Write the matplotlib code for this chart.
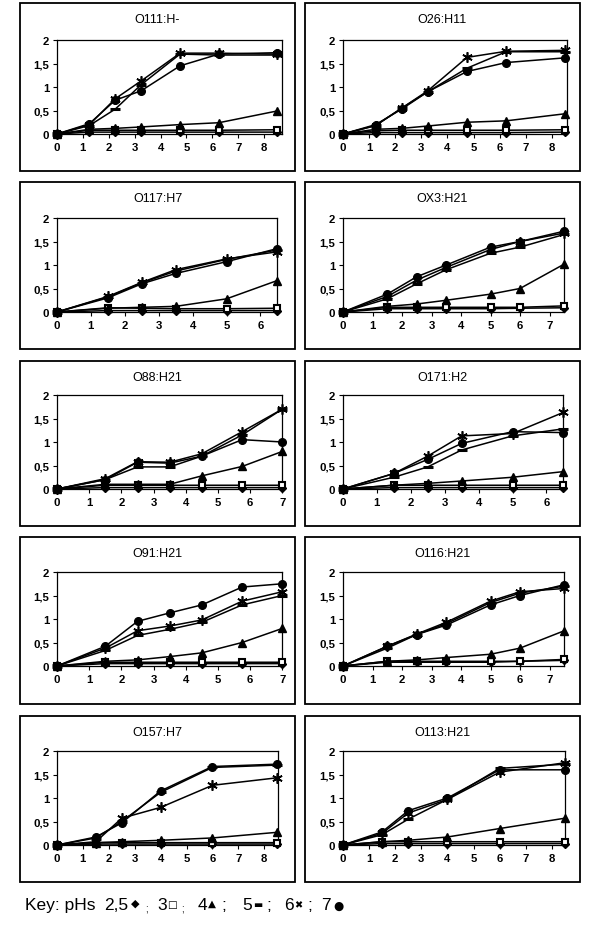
import matplotlib
matplotlib.use("Agg")
import matplotlib.pyplot as plt
from matplotlib.patches import Rectangle
from matplotlib.ticker import FuncFormatter

# ---------------- data ----------------
titles = ["O111:H-", "O26:H11", "O117:H7", "OX3:H21", "O88:H21",
          "O171:H2", "O91:H21", "O116:H21", "O157:H7", "O113:H21"]

times = [
    [0, 1.25, 2.25, 3.25, 4.75, 6.25, 8.5],
    [0, 1.25, 2.25, 3.25, 4.75, 6.25, 8.5],
    [0, 1.5, 2.5, 3.5, 5, 6.5],
    [0, 1.5, 2.5, 3.5, 5, 6, 7.5],
    [0, 1.5, 2.5, 3.5, 4.5, 5.75, 7],
    [0, 1.5, 2.5, 3.5, 5, 6.5],
    [0, 1.5, 2.5, 3.5, 4.5, 5.75, 7],
    [0, 1.5, 2.5, 3.5, 5, 6, 7.5],
    [0, 1.5, 2.5, 4, 6, 8.5],
    [0, 1.5, 2.5, 4, 6, 8.5],
]

ph25 = [
    [0, 0.04, 0.04, 0.04, 0.04, 0.04, 0.04],
    [0, 0.03, 0.03, 0.03, 0.03, 0.03, 0.04],
    [0, 0.03, 0.03, 0.03, 0.03, 0.03],
    [0, 0.07, 0.07, 0.07, 0.07, 0.08, 0.09],
    [0, 0.03, 0.03, 0.03, 0.03, 0.03, 0.03],
    [0, 0.03, 0.03, 0.03, 0.03, 0.03],
    [0, 0.05, 0.05, 0.05, 0.05, 0.05, 0.05],
    [0, 0.08, 0.08, 0.08, 0.08, 0.10, 0.12],
    [0, 0.02, 0.02, 0.02, 0.02, 0.02],
    [0, 0.03, 0.03, 0.03, 0.03, 0.03],
]
ph3 = [
    [0, 0.08, 0.08, 0.08, 0.08, 0.08, 0.09],
    [0, 0.07, 0.08, 0.08, 0.08, 0.08, 0.09],
    [0, 0.09, 0.08, 0.07, 0.07, 0.08],
    [0, 0.10, 0.10, 0.10, 0.10, 0.10, 0.13],
    [0, 0.08, 0.08, 0.08, 0.08, 0.08, 0.08],
    [0, 0.08, 0.08, 0.08, 0.08, 0.08],
    [0, 0.08, 0.08, 0.08, 0.08, 0.08, 0.08],
    [0, 0.10, 0.10, 0.10, 0.10, 0.10, 0.14],
    [0, 0.05, 0.05, 0.05, 0.05, 0.05],
    [0, 0.07, 0.07, 0.07, 0.07, 0.07],
]
ph4 = [
    [0, 0.10, 0.12, 0.15, 0.20, 0.24, 0.49],
    [0, 0.10, 0.12, 0.17, 0.25, 0.28, 0.43],
    [0, 0.08, 0.10, 0.12, 0.28, 0.67],
    [0, 0.12, 0.17, 0.25, 0.38, 0.50, 1.02],
    [0, 0.10, 0.10, 0.10, 0.28, 0.48, 0.80],
    [0, 0.08, 0.12, 0.17, 0.25, 0.37],
    [0, 0.10, 0.13, 0.20, 0.28, 0.50, 0.80],
    [0, 0.10, 0.13, 0.18, 0.25, 0.38, 0.75],
    [0, 0.05, 0.07, 0.10, 0.15, 0.27],
    [0, 0.07, 0.10, 0.17, 0.35, 0.57],
]
ph5 = [
    [0, 0.18, 0.53, 1.05, 1.70, 1.68, 1.68],
    [0, 0.18, 0.55, 0.90, 1.40, 1.75, 1.75],
    [0, 0.32, 0.62, 0.87, 1.12, 1.32],
    [0, 0.28, 0.60, 0.90, 1.25, 1.38, 1.65],
    [0, 0.20, 0.47, 0.47, 0.70, 1.15, 1.70],
    [0, 0.25, 0.47, 0.83, 1.13, 1.28],
    [0, 0.33, 0.65, 0.78, 0.93, 1.30, 1.50],
    [0, 0.38, 0.67, 0.90, 1.35, 1.55, 1.70],
    [0, 0.15, 0.50, 1.12, 1.65, 1.70],
    [0, 0.22, 0.55, 0.97, 1.63, 1.72],
]
ph6 = [
    [0, 0.20, 0.75, 1.13, 1.72, 1.72, 1.70],
    [0, 0.18, 0.55, 0.92, 1.63, 1.76, 1.78],
    [0, 0.33, 0.63, 0.90, 1.13, 1.28],
    [0, 0.33, 0.68, 0.95, 1.33, 1.50, 1.68],
    [0, 0.22, 0.58, 0.57, 0.75, 1.22, 1.70],
    [0, 0.33, 0.70, 1.13, 1.18, 1.63],
    [0, 0.38, 0.75, 0.85, 0.98, 1.38, 1.58],
    [0, 0.42, 0.68, 0.93, 1.38, 1.58, 1.65],
    [0, 0.07, 0.57, 0.80, 1.27, 1.43],
    [0, 0.25, 0.68, 0.97, 1.55, 1.75],
]
ph7 = [
    [0, 0.22, 0.72, 0.92, 1.45, 1.70, 1.73],
    [0, 0.20, 0.53, 0.90, 1.33, 1.52, 1.62],
    [0, 0.30, 0.60, 0.82, 1.07, 1.35],
    [0, 0.38, 0.75, 1.00, 1.38, 1.50, 1.72],
    [0, 0.20, 0.57, 0.55, 0.70, 1.05, 1.00],
    [0, 0.33, 0.63, 0.97, 1.22, 1.20],
    [0, 0.42, 0.95, 1.13, 1.30, 1.68, 1.75],
    [0, 0.42, 0.67, 0.87, 1.30, 1.50, 1.73],
    [0, 0.17, 0.47, 1.15, 1.67, 1.72],
    [0, 0.28, 0.73, 1.00, 1.60, 1.60],
]
xmax = [8.7, 8.6, 6.5, 7.5, 7.0, 6.5, 7.0, 7.5, 8.55, 8.5]

# ---------------- layout (pixels) ----------------
W, H = 600, 929
fig = plt.figure(figsize=(6, 9.29), dpi=100)
plt.rcParams["font.family"] = ["Liberation Sans", "DejaVu Sans"]

col_box = [(20, 295), (305, 580)]
row_box = [(4, 172), (183, 350), (362, 527), (538, 705), (717, 883)]
ax_tops = [41, 219, 396, 573, 752]
ax_left = [57, 343]
ax_h = 94

def fx(px):
    return px / W

def fy(py):
    return 1 - py / H

styles = [
    (ph25, dict(marker="D", ms=3.8, mfc="black", mec="black")),
    (ph3, dict(marker="s", ms=4.8, mfc="white", mec="black", mew=1.5)),
    (ph4, dict(marker="^", ms=5.5, mfc="black", mec="black")),
    (ph5, dict(marker="_", ms=7, mec="black", mew=2.2)),
    (ph6, dict(marker=(6, 2, 0), ms=7.5, mec="black", mew=1.2)),
    (ph7, dict(marker="o", ms=5.5, mfc="black", mec="black")),
]

comma = FuncFormatter(lambda v, p: ("%g" % v).replace(".", ","))

for i in range(10):
    r, c = divmod(i, 2)
    bx0, bx1 = col_box[c]
    by0, by1 = row_box[r]
    fig.add_artist(Rectangle((fx(bx0), fy(by1)), (bx1 - bx0) / W, (by1 - by0) / H,
                             transform=fig.transFigure, fill=False, lw=1.3, ec="black"))
    fig.text(fx((bx0 + bx1) / 2), fy(by0 + 16), titles[i], ha="center", va="center",
             fontsize=9)
    unit = 25.9 if c == 0 else 26.1
    if xmax[i] < 8:
        unit = {6.5: 33.9, 7.0: 32.2, 7.5: 29.5}[xmax[i]]
    axl = ax_left[c]
    axw = unit * xmax[i]
    ax = fig.add_axes([fx(axl), fy(ax_tops[r] + ax_h), axw / W, ax_h / H])
    for data, st in styles:
        ax.plot(times[i], data[i], color="black", lw=1.1, clip_on=False, zorder=3, **st)
    ax.set_xlim(0, xmax[i])
    ax.set_ylim(0, 2)
    ax.set_xticks(range(0, int(xmax[i]) + 1))
    ax.set_yticks([0, 0.5, 1, 1.5, 2])
    ax.yaxis.set_major_formatter(comma)
    for s in ax.spines.values():
        s.set_linewidth(0.9)
    ax.tick_params(direction="out", length=3, width=0.8, pad=2.5, labelsize=8.2)
    for lab in ax.get_xticklabels() + ax.get_yticklabels():
        lab.set_fontweight("bold")

# ---------------- key ----------------
ky = fy(906)
kfs = 12.5
fig.text(fx(25), ky, "Key: pHs", fontsize=kfs, va="center", ha="left")
pieces = [
    (104, "2,5", kfs, 0), (131, "\u25C6", 8, 2), (145, ";", 7, -3),
    (157, "3", kfs, 0), (167, "\u25A1", 7.5, 1), (181, ";", 7, -3),
    (198, "4", kfs, 0), (208, "\u25B2", 7.5, 2), (221, ";", kfs, 0),
    (242, "5", kfs, 0), (253, "\u25AC", 7, 1), (266, ";", kfs, 0),
    (284, "6", kfs, 0), (294, "\u2716", 7, 1), (307, ";", kfs, 0),
    (321, "7", kfs, 0), (333, "\u25CF", 8.5, 0),
]
for px, s, fs, dy in pieces:
    fig.text(fx(px), fy(906 - dy), s, fontsize=fs, va="center", ha="left",
             family=["DejaVu Sans"] if ord(s[0]) > 0x2000 else ["Liberation Sans"])

fig.savefig("out.png", dpi=100)
